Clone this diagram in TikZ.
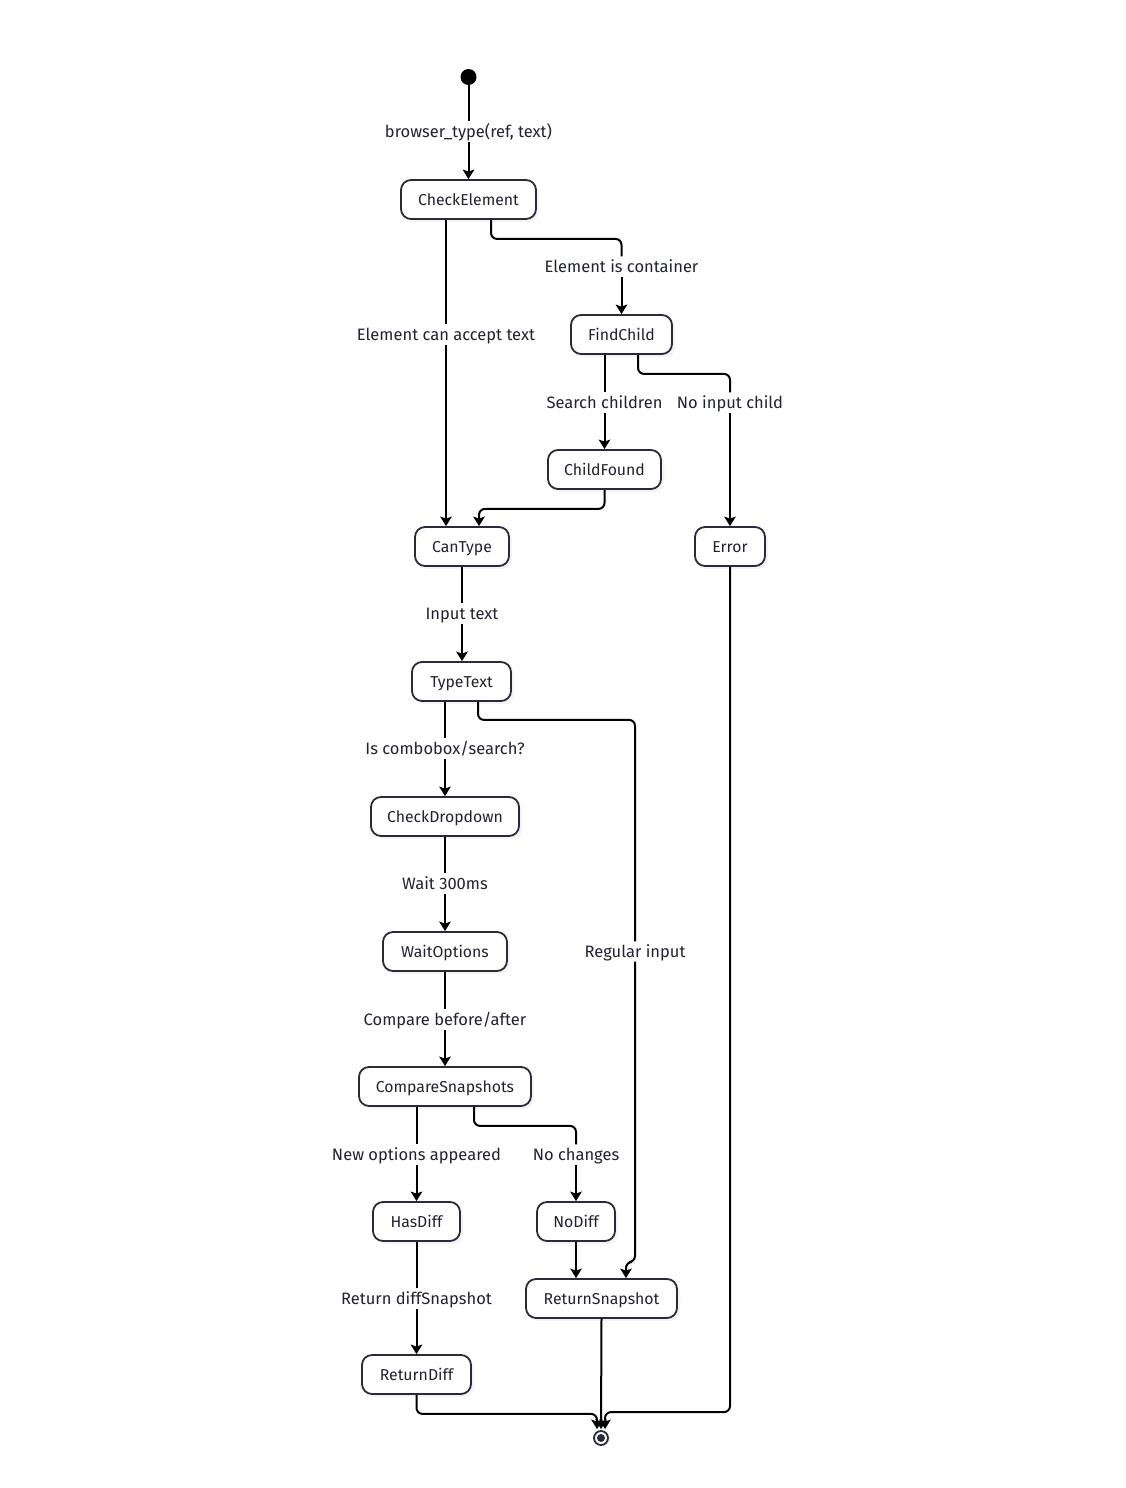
\documentclass[tikz,border=0pt]{standalone}
\usepackage{fontspec}
\setmainfont{Fira Sans}
\usetikzlibrary{arrows.meta,shadows,calc}
\definecolor{ink}{HTML}{2A2A3A}
\definecolor{txt}{HTML}{222230}
\begin{document}
\begin{tikzpicture}[x=1pt,y=-1pt,
 state/.style={draw=ink, line width=1.8pt, rounded corners=10pt, fill=white, minimum height=39pt, inner sep=0pt, text=txt, text height=12pt, text depth=1pt, font=\fontsize{15.8}{18}\selectfont, drop shadow={shadow xshift=3pt, shadow yshift=-3pt, fill=black!8, draw=none}},
 lbl/.style={inner sep=3pt, fill=white, text=txt, text height=12.5pt, text depth=1.5pt, font=\fontsize{16.5}{18}\selectfont},
 seg/.style={line width=2pt, draw=black, rounded corners=6pt},
 arr/.style={seg, -{Stealth[length=9.5pt,width=11.5pt,inset=2pt]}},
]
\fill[white] (0,0) rectangle (1126,1488);
\useasboundingbox (0,0) rectangle (1126,1488);

% nodes
\node[circle, fill=black, minimum size=16pt, inner sep=0pt] (start) at (468.5,77) {};
\node[state, minimum width=135pt] (ce) at (468.5,199.5) {CheckElement};
\node[state, minimum width=101pt] (fc) at (621.5,334.5) {FindChild};
\node[state, minimum width=113pt] (cf) at (604.5,469.5) {ChildFound};
\node[state, minimum width=94pt] (ct) at (462,546.5) {CanType};
\node[state, minimum width=70pt] (er) at (730,546.5) {Error};
\node[state, minimum width=99pt] (tt) at (461.5,681.5) {TypeText};
\node[state, minimum width=148pt] (cd) at (445,816.5) {CheckDropdown};
\node[state, minimum width=124pt] (wo) at (445,951.5) {WaitOptions};
\node[state, minimum width=172pt] (cs) at (445,1086.5) {CompareSnapshots};
\node[state, minimum width=87pt] (hd) at (416.5,1221.5) {HasDiff};
\node[state, minimum width=78pt] (nd) at (576,1221.5) {NoDiff};
\node[state, minimum width=151pt] (rs) at (601.5,1298.5) {ReturnSnapshot};
\node[state, minimum width=109pt] (rd) at (416.5,1374.5) {ReturnDiff};
\node[circle, draw=ink, line width=1.8pt, fill=white, minimum size=14pt, inner sep=0pt, drop shadow={shadow xshift=2pt, shadow yshift=-2pt, fill=black!8, draw=none}] (fin) at (601,1438) {};
\fill[ink] (fin.center) circle (4pt);

% labels
\node[lbl] (l1) at (468.5,131.5) {browser\_type(ref, text)};
\node[lbl] (l2) at (621.5,266.5) {Element is container};
\node[lbl] (l3) at (446,334.5) {Element can accept text};
\node[lbl] (l4) at (604.5,402.5) {Search children};
\node[lbl] (l5) at (730,402.5) {No input child};
\node[lbl] (l6) at (462,613.5) {Input text};
\node[lbl] (l7) at (445,748.5) {Is combobox/search?};
\node[lbl] (l8) at (635,951.5) {Regular input};
\node[lbl] (l9) at (445,883.5) {Wait 300ms};
\node[lbl] (l10) at (445,1019.5) {Compare before/after};
\node[lbl] (l11) at (416.5,1154.5) {New options appeared};
\node[lbl] (l12) at (576,1154.5) {No changes};
\node[lbl] (l13) at (416.5,1298.5) {Return diffSnapshot};
\coordinate (rbend) at (635,1262);

% connectors
\draw[seg] (start) -- (l1.north);
\draw[arr] (l1.south) -- (ce.north);
\draw[seg] ($(ce.south)+(22.5,0)$) -- ++(0,19) -| (l2.north);
\draw[arr] (l2.south) -- (fc.north);
\draw[seg] ($(ce.south)+(-22.5,0)$) -- (l3.north);
\draw[arr] (l3.south) -- ($(ct.north)+(-16,0)$);
\draw[seg] ($(fc.south)+(-17,0)$) -- (l4.north);
\draw[arr] (l4.south) -- (cf.north);
\draw[seg] ($(fc.south)+(16.5,0)$) -- ++(0,19) -| (l5.north);
\draw[arr] (l5.south) -- (er.north);
\draw[arr] (cf.south) -- ++(0,19) -| ($(ct.north)+(17,0)$);
\draw[seg] (ct.south) -- (l6.north);
\draw[arr] (l6.south) -- (l6.south |- tt.north);
\draw[seg] ($(tt.south)+(-16.5,0)$) -- (l7.north);
\draw[arr] (l7.south) -- (cd.north);
\draw[seg] ($(tt.south)+(16.5,0)$) -- ++(0,18) -| (l8.north);
\draw[arr] (l8.south) -- (rbend) -| ($(rs.north)+(24.5,0)$);
\draw[seg] (cd.south) -- (l9.north);
\draw[arr] (l9.south) -- (wo.north);
\draw[seg] (wo.south) -- (l10.north);
\draw[arr] (l10.south) -- (cs.north);
\draw[seg] ($(cs.south)+(-28.5,0)$) -- (l11.north);
\draw[arr] (l11.south) -- (hd.north);
\draw[seg] ($(cs.south)+(29,0)$) -- ++(0,19) -| (l12.north);
\draw[arr] (l12.south) -- (nd.north);
\draw[arr] (nd.south) -- ($(rs.north)+(-25.5,0)$);
\draw[seg] (hd.south) -- (l13.north);
\draw[arr] (l13.south) -- (rd.north);
\draw[arr] (rd.south) -- ++(0,19) -| ($(fin.north)+(-4,-1)$);
\draw[arr] (rs.south) -- ($(fin.north)+(0,-1)$);
\draw[arr] (er.south) |- ($(fin.north)+(40,-18)$) -| ($(fin.north)+(4,-1)$);
\end{tikzpicture}
\end{document}
